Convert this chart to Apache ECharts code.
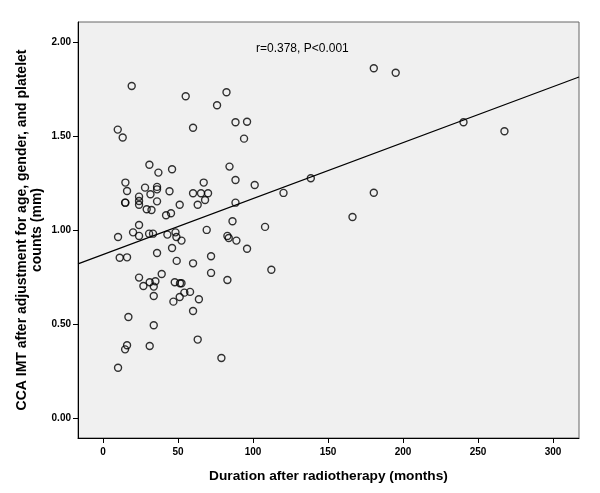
<!DOCTYPE html>
<html>
<head>
<meta charset="utf-8">
<script src="https://cdn.jsdelivr.net/npm/echarts@6/dist/echarts.min.js"></script>
<style>
html,body{margin:0;padding:0;background:#fff;}
#chart{width:600px;height:493px;}
</style>
</head>
<body>
<div id="chart"></div>
<script>
// Duration after radiotherapy (months)
var durationMonths = [
  19.1, 9.8, 13.1, 55.1, 82.3, 76.0, 60.0, 88.3, 96.0, 94.0,
  30.9, 36.9, 46.0, 84.3, 14.9, 16.0, 28.0, 36.0, 36.0, 44.3,
  67.1, 88.3, 101.1, 120.3, 24.0, 31.6, 24.0, 14.7, 14.9, 24.0,
  36.0, 29.1, 32.3, 51.1, 60.0, 65.3, 70.0, 68.0, 63.1, 88.3,
  42.0, 45.3, 86.3, 108.0, 10.0, 20.0, 24.0, 24.0, 30.7, 33.3,
  42.9, 48.3, 48.9, 52.3, 69.1, 82.9, 83.8, 88.9, 46.0, 96.0,
  180.5, 195.1, 240.3, 267.6, 138.5, 180.5, 166.3, 11.1, 16.0, 36.0,
  49.1, 60.0, 72.0, 39.1, 24.0, 26.9, 31.1, 34.9, 33.8, 47.8,
  51.3, 52.3, 72.0, 82.9, 112.2, 33.8, 46.9, 51.1, 54.2, 58.0,
  63.9, 60.0, 16.9, 33.8, 63.1, 16.0, 14.7, 31.1, 78.9, 10.0
];
// CCA IMT after adjustment (mm)
var ccaImt = [
  1.769, 1.537, 1.495, 1.715, 1.736, 1.667, 1.547, 1.576, 1.579, 1.489,
  1.350, 1.308, 1.326, 1.340, 1.255, 1.210, 1.228, 1.232, 1.219, 1.209,
  1.255, 1.269, 1.242, 1.200, 1.180, 1.193, 1.157, 1.148, 1.148, 1.137,
  1.155, 1.113, 1.109, 1.137, 1.198, 1.198, 1.198, 1.162, 1.137, 1.148,
  1.081, 1.092, 1.049, 1.019, 0.965, 0.990, 1.029, 0.971, 0.983, 0.983,
  0.978, 0.990, 0.965, 0.946, 1.003, 0.971, 0.960, 0.946, 0.907, 0.903,
  1.864, 1.840, 1.576, 1.528, 1.278, 1.201, 1.072, 0.855, 0.857, 0.880,
  0.838, 0.825, 0.863, 0.768, 0.749, 0.704, 0.724, 0.730, 0.701, 0.724,
  0.719, 0.719, 0.774, 0.736, 0.791, 0.651, 0.621, 0.646, 0.669, 0.673,
  0.634, 0.571, 0.539, 0.495, 0.419, 0.389, 0.367, 0.385, 0.321, 0.269
];
// Fit line endpoints
var fitX = [-16.7, 317.3];
var fitY = [0.822, 1.817];
var xTicks = [0, 50, 100, 150, 200, 250, 300];
var yTicks = [0, 0.5, 1.0, 1.5, 2.0];
var annotation = 'r=0.378, P<0.001';
var xTitle = 'Duration after radiotherapy (months)';
var yTitle = 'CCA IMT after adjustment for age, gender, and platelet\ncounts (mm)';

var points = durationMonths.map(function (d, i) { return [d, ccaImt[i]]; });
var fitLine = fitX.map(function (d, i) { return [d, fitY[i]]; });

var FONT = 'Liberation Sans, Arial, sans-serif';
var chart = echarts.init(document.getElementById('chart'), null, {renderer: 'canvas'});
chart.setOption({
  animation: false,
  backgroundColor: '#ffffff',
  grid: {
    left: 78, top: 22, right: 21, bottom: 55,
    show: true, backgroundColor: '#F0F0F0', borderColor: '#666666', borderWidth: 1
  },
  xAxis: {
    type: 'value', min: -16.7, max: 317.3,
    splitLine: {show: false},
    axisLine: {show: true, onZero: false, lineStyle: {color: '#000', width: 1}},
    axisTick: {show: true, length: 5, customValues: xTicks, lineStyle: {color: '#000'}},
    axisLabel: {customValues: xTicks, color: '#000', fontFamily: FONT, fontSize: 10, fontWeight: 'bold', margin: 9},
    name: xTitle, nameLocation: 'middle', nameGap: 31, nameMoveOverlap: false,
    nameTextStyle: {color: '#000', fontFamily: FONT, fontSize: 13.7, fontWeight: 'bold'}
  },
  yAxis: {
    type: 'value', min: -0.105, max: 2.11,
    splitLine: {show: false},
    axisLine: {show: true, onZero: false, lineStyle: {color: '#000', width: 1}},
    axisTick: {show: true, length: 5, customValues: yTicks, lineStyle: {color: '#000'}},
    axisLabel: {customValues: yTicks, color: '#000', fontFamily: FONT, fontSize: 10, fontWeight: 'bold', margin: 7,
      formatter: function (v) { return v.toFixed(2); }},
    name: yTitle, nameLocation: 'middle', nameGap: 34, nameRotate: 90, nameMoveOverlap: false,
    nameTextStyle: {color: '#000', fontFamily: FONT, fontSize: 14, fontWeight: 'bold', lineHeight: 14.5, align: 'center'}
  },
  graphic: [{
    type: 'text', left: 256, top: 43,
    style: {text: annotation, fill: '#000', font: '12px ' + FONT}
  }],
  series: [{
    type: 'line', data: fitLine, symbol: 'none', silent: true,
    lineStyle: {color: '#000', width: 1.2}, z: 2
  }, {
    type: 'scatter', data: points, symbol: 'circle', symbolSize: 7,
    itemStyle: {color: 'rgba(0,0,0,0)', borderColor: '#000', borderWidth: 1.4}, z: 3
  }]
});
</script>
</body>
</html>
